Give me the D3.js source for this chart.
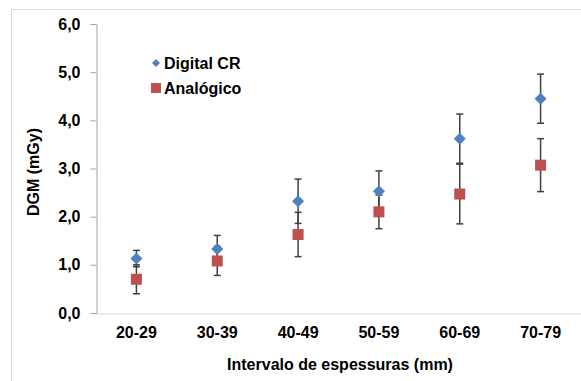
<!DOCTYPE html>
<html><head><meta charset="utf-8">
<script src="https://cdn.jsdelivr.net/npm/d3@7"></script>
<style>body{margin:0;background:#fff;}svg{display:block;font-family:Arial,"Liberation Sans",sans-serif;}</style>
</head><body>
<script>
const categories = ["20-29","30-39","40-49","50-59","60-69","70-79"];
const digitalCR = [1.13, 1.33, 2.32, 2.53, 3.62, 4.45];
const digitalErr = [0.17, 0.28, 0.46, 0.42, 0.51, 0.51];
const analogico = [0.70, 1.08, 1.63, 2.10, 2.47, 3.07];
const analogicoErr = [0.30, 0.30, 0.46, 0.35, 0.62, 0.55];
const yTicks = [0,1,2,3,4,5,6];
const seriesNames = ["Digital CR","Analógico"];

const W = 581, H = 381;
const m = {left: 96, top: 24, right: 581, bottom: 313};
const FS = 16;
const svg = d3.select("body").append("svg").attr("width", W).attr("height", H);

svg.append("rect").attr("x",11.5).attr("y",9.5).attr("width",W).attr("height",H)
  .attr("fill","#fff").attr("stroke","#d9d9d9");

const x = d3.scaleBand().domain(categories).range([m.left, m.right]);
const y = d3.scaleLinear().domain([0,6]).range([m.bottom, m.top]);

// y axis
const yAxis = svg.append("g").attr("transform",`translate(${m.left+0.5},0)`)
  .call(d3.axisLeft(y).tickValues(yTicks).tickSize(6).tickPadding(10)
    .tickFormat(d => d3.format(".1f")(d).replace(".", ",")));
yAxis.select(".domain").attr("stroke","#a6a6a6");
yAxis.selectAll(".tick line").attr("stroke","#a6a6a6");
yAxis.selectAll("text").attr("font-size",FS).attr("font-weight","bold").attr("fill","#000")
  .attr("font-family","Arial, 'Liberation Sans', sans-serif");

// x axis
const xAxis = svg.append("g").attr("transform",`translate(0,${m.bottom+0.5})`)
  .call(d3.axisBottom(x).tickSize(0).tickPadding(13));
xAxis.select(".domain").attr("stroke","#d9d9d9");
xAxis.selectAll("text").attr("font-size",FS).attr("font-weight","bold").attr("fill","#000")
  .attr("font-family","Arial, 'Liberation Sans', sans-serif");

const cx = c => x(c) + x.bandwidth()/2;

function errBars(vals, errs) {
  const g = svg.append("g").attr("stroke","#404040").attr("stroke-width",1.5);
  categories.forEach((c,i) => {
    const xc = cx(c), y1 = y(vals[i]+errs[i]), y0 = y(vals[i]-errs[i]);
    g.append("line").attr("x1",xc).attr("x2",xc).attr("y1",y1).attr("y2",y0);
    g.append("line").attr("x1",xc-3.5).attr("x2",xc+3.5).attr("y1",y1).attr("y2",y1);
    g.append("line").attr("x1",xc-3.5).attr("x2",xc+3.5).attr("y1",y0).attr("y2",y0);
  });
}
errBars(analogico, analogicoErr);
errBars(digitalCR, digitalErr);

// markers
svg.append("g").selectAll("rect").data(analogico).join("rect")
  .attr("x",(d,i)=>cx(categories[i])-5.5).attr("y",d=>y(d)-5.5)
  .attr("width",11).attr("height",11).attr("fill","#c0504d");
svg.append("g").selectAll("path").data(digitalCR).join("path")
  .attr("d",(d,i)=>{const X=cx(categories[i]),Y=y(d),r=6;return `M${X},${Y-r}L${X+r},${Y}L${X},${Y+r}L${X-r},${Y}Z`;})
  .attr("fill","#4f81bd");

// legend
const lg = svg.append("g");
lg.append("path").attr("d","M156,59L160,63L156,67L152,63Z").attr("fill","#4f81bd");
lg.append("rect").attr("x",151).attr("y",83).attr("width",10).attr("height",10).attr("fill","#c0504d");
lg.append("text").attr("x",164).attr("y",69).text(seriesNames[0])
  .attr("font-size",FS).attr("font-weight","bold");
lg.append("text").attr("x",164).attr("y",94).text(seriesNames[1])
  .attr("font-size",FS).attr("font-weight","bold");

// titles
svg.append("text").attr("transform","translate(39,172) rotate(-90)").attr("text-anchor","middle")
  .attr("font-size",FS).attr("font-weight","bold").text("DGM (mGy)");
svg.append("text").attr("x",340).attr("y",370).attr("text-anchor","middle")
  .attr("font-size",FS).attr("font-weight","bold").text("Intervalo de espessuras (mm)");
</script>
</body></html>
